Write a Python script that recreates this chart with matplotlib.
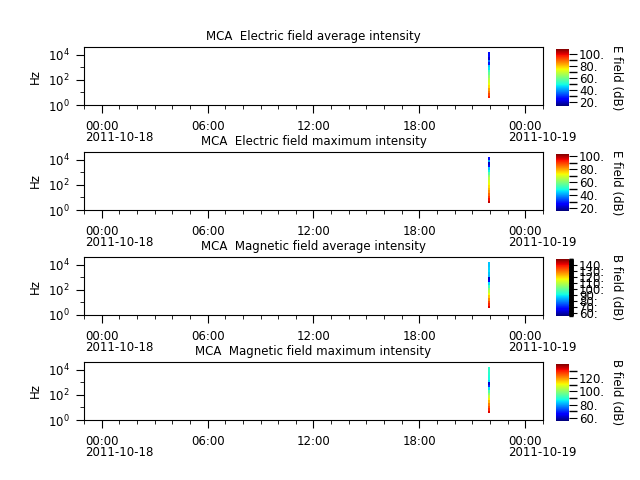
import datetime as dt
import matplotlib
matplotlib.use('Agg')
import matplotlib.pyplot as plt
import matplotlib.dates as mdates
import matplotlib.ticker as mticker
import numpy as np

# frequency bin edges (Hz), bottom -> top
freq_edges = [3.5, 5.5, 9, 14, 23, 37, 60, 95, 150, 240, 390, 620,
              1000, 1600, 2500, 4000, 6500, 10500, 17000]

# one spectrum, time span of the burst
t_edges = [dt.datetime(2011, 10, 18, 21, 53), dt.datetime(2011, 10, 18, 21, 59)]

# values per bin, listed top -> bottom (dB)
e_avg = [26, 26, 20, 36, 27, 44, 47, 54, 58, 63, 67, 71, 74, 78, 84, 88, 93, 97]
e_max = [28, 42, 22, 28, 44, 48, 56, 62, 66, 70, 72, 75, 78, 82, 86, 90, 94, 98]
b_avg = [86, 86, 87, 88, 86, 85, 62, 68, 88, 96, 104, 110, 116, 122, 128, 134, 138, 142]
b_max = [90, 91, 90, 89, 88, 85, 62, 70, 86, 94, 100, 106, 112, 117, 122, 126, 130, 134]

titles = ['MCA  Electric field average intensity',
          'MCA  Electric field maximum intensity',
          'MCA  Magnetic field average intensity',
          'MCA  Magnetic field maximum intensity']
cb_labels = ['E field (dB)', 'E field (dB)', 'B field (dB)', 'B field (dB)']
ranges = [(13, 109), (16.5, 103), (56, 150), (56, 141)]
cb_ticks = [[20, 40, 60, 80, 100], [20, 40, 60, 80, 100],
            [60, 70, 80, 90, 100, 110, 120, 130, 140], [60, 80, 100, 120]]

x_start = dt.datetime(2011, 10, 17, 23, 0)
x_end = dt.datetime(2011, 10, 19, 1, 0)
day_ticks = [dt.datetime(2011, 10, 18), dt.datetime(2011, 10, 19)]

fs = 8.5
fig = plt.figure(figsize=(6.4, 4.8), dpi=100)

bottoms = [1 - 105/480., 1 - 210/480., 1 - 315/480., 1 - 420/480.]
data = [e_avg, e_max, b_avg, b_max]

for i in range(4):
    ax = fig.add_axes([84/640., bottoms[i], 459/640., 58/480.])
    cax = fig.add_axes([556/640., bottoms[i] - 0.7/480, 12.5/640., 56.7/480.])

    vals = np.array(data[i][::-1], dtype=float).reshape(-1, 1)
    T = mdates.date2num(t_edges)
    vmin, vmax = ranges[i]
    mesh = ax.pcolormesh(T, freq_edges, vals, cmap='jet', vmin=vmin, vmax=vmax)

    ax.set_yscale('log')
    ax.set_ylim(1, 4.2e4)
    ax.set_xlim(mdates.date2num(x_start), mdates.date2num(x_end))
    ax.yaxis.set_major_locator(mticker.FixedLocator([1, 100, 1e4]))
    ax.yaxis.set_minor_locator(mticker.FixedLocator([10, 1000]))
    ax.yaxis.set_minor_formatter(mticker.NullFormatter())
    ax.xaxis.set_major_locator(mdates.HourLocator(byhour=[0, 6, 12, 18]))
    ax.xaxis.set_minor_locator(mdates.HourLocator())
    ax.xaxis.set_major_formatter(mdates.DateFormatter('%H:%M'))
    ax.tick_params(which='major', length=5.5, labelsize=fs, pad=5)
    ax.tick_params(which='minor', length=2.8)
    ax.set_ylabel('Hz', fontsize=fs)
    ax.set_title(titles[i], fontsize=fs, pad=5)

    for d in day_ticks:
        ax.annotate(d.strftime('%Y-%m-%d'), xy=(mdates.date2num(d), 0),
                    xycoords=('data', 'axes fraction'), xytext=(-17, -26),
                    textcoords='offset pixels', ha='left', va='top', fontsize=fs)

    cb = fig.colorbar(mesh, cax=cax)
    cb.outline.set_visible(False)
    cb.set_ticks(cb_ticks[i])
    if i in (0, 1):
        cb.ax.yaxis.set_minor_locator(mticker.FixedLocator([30, 50, 70, 90]))
    elif i == 2:
        cb.ax.yaxis.set_minor_locator(mticker.MultipleLocator(0.5))
    else:
        cb.ax.yaxis.set_minor_locator(mticker.FixedLocator([70, 90, 110, 130]))
    cb.ax.yaxis.set_major_formatter(mticker.FormatStrFormatter('%d.'))
    cb.ax.tick_params(which='major', length=5.5, labelsize=fs, pad=2)
    cb.ax.tick_params(which='minor', length=(2.8 if i == 2 else 5.5), width=1)
    cb.set_label(cb_labels[i], rotation=-90, fontsize=fs, labelpad=13)

fig.savefig('out.png', dpi=100)
